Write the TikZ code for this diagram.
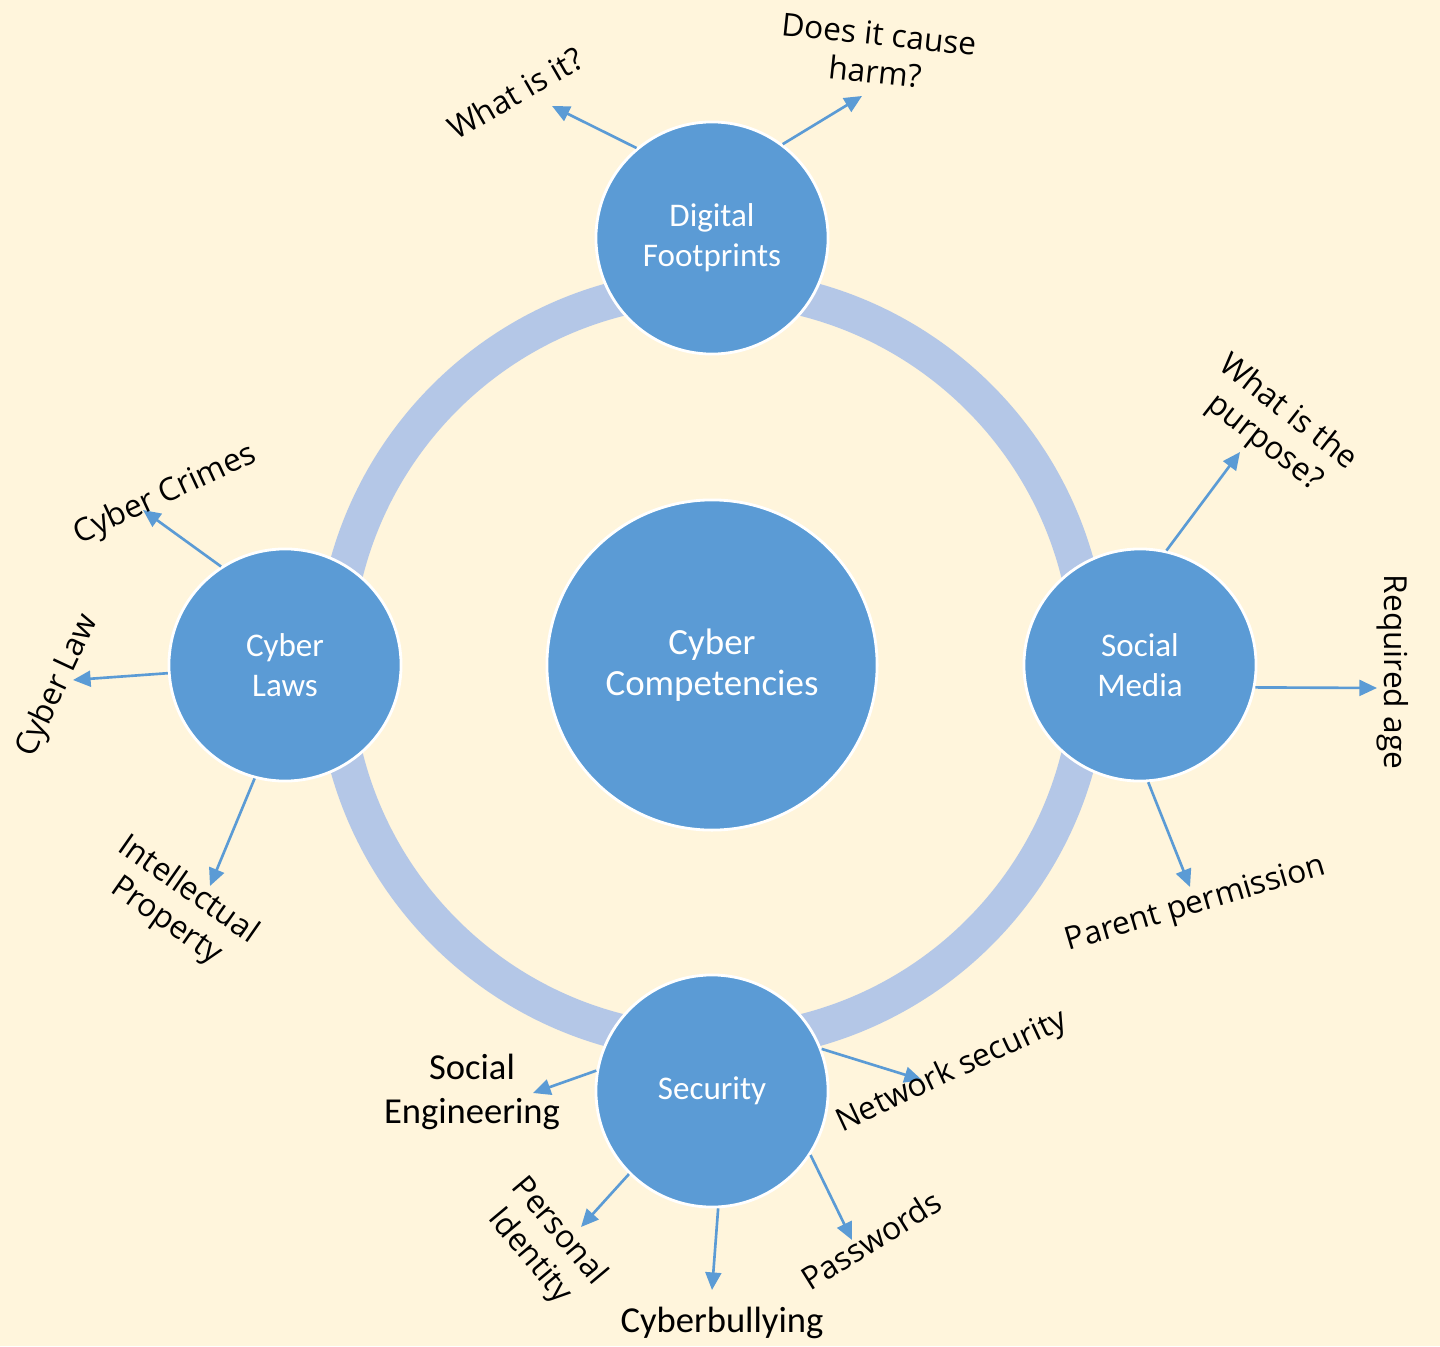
\documentclass[tikz,border=0pt]{standalone}
\usepackage{fontspec}
\setmainfont{Carlito}
\newfontfamily\lblfont{Open Sans}
\usetikzlibrary{arrows.meta}
\definecolor{bgcol}{RGB}{255,245,220}
\definecolor{ringcol}{RGB}{180,199,231}
\definecolor{nodeblue}{RGB}{91,155,213}
\begin{document}
\begin{tikzpicture}[x=0.01cm,y=-0.01cm,
  topic/.style={circle,fill=nodeblue,draw=white,line width=0.8pt,minimum size=2.32cm,inner sep=0pt,
    text=white,align=center,font=\fontsize{9.4pt}{11.3pt}\selectfont},
  hub/.style={circle,fill=nodeblue,draw=white,line width=0.8pt,minimum size=3.3cm,inner sep=0pt,
    text=white,align=center,font=\fontsize{10.5pt}{11.6pt}\selectfont},
  lbl/.style={align=center,inner sep=0pt,text=black,font=\lblfont\fontsize{9pt}{10.8pt}\selectfont},
  clbl/.style={align=center,inner sep=0pt,text=black,font=\fontsize{10.4pt}{12.5pt}\selectfont},
  arr/.style={draw=nodeblue,line width=0.75pt,-{Triangle[length=5pt,width=4.5pt]}}]
\fill[bgcol] (0,0) rectangle (1440,1346);
\useasboundingbox (0,0) rectangle (1440,1346);
\draw[ringcol,line width=10.2pt] (712,665) circle[radius=378];

\node[hub] (hub) at (712,665) {Cyber\\Competencies};
\node[topic] (df) at (712,238) {Digital\\Footprints};
\node[topic] (cl) at (285,665) {Cyber\\Laws};
\node[topic] (sm) at (1140,665) {Social\\Media};
\node[topic] (sec) at (712,1091) {Security};

% arrow tips
\coordinate (t1) at (552,106);
\coordinate (t2) at (862,96);
\coordinate (t3) at (1240,452);
\coordinate (t4) at (1377,688);
\coordinate (t5) at (1190,887);
\coordinate (t6) at (143,510);
\coordinate (t7) at (73,680);
\coordinate (t8) at (210,886);
\coordinate (t9) at (533,1093);
\coordinate (t10) at (922,1080);
\coordinate (t11) at (581,1227);
\coordinate (t12) at (712,1290);
\coordinate (t13) at (852,1240);

\draw[arr] (df.130) -- (t1);
\draw[arr] (df.53.5) -- (t2);
\draw[arr] (sm.77) -- (t3);
\draw[arr] (sm.-11) -- (t4);
\draw[arr] (sm.-86.5) -- (t5);
\draw[arr] (cl.123.5) -- (t6);
\draw[arr] (cl.184) -- (t7);
\draw[arr] (cl.255.6) -- (t8);
\draw[arr] (sec.170) -- (t9);
\draw[arr] (sec.21) -- (t10);
\draw[arr] (sec.225) -- (t11);
\draw[arr] (sec.-87) -- (t12);
\draw[arr] (sec.-33.5) -- (t13);

% labels
\node[lbl,rotate=30] (l1) at (515,93) {What is it?};
\node[lbl,rotate=-6] (l2) at (877,53) {Does it cause\\harm?};
\node[lbl,rotate=-38] (l3) at (1276,428) {What is the\\purpose?};
\node[lbl,rotate=-90] (l4) at (1393,672) {Required age};
\node[lbl,rotate=16.5] (l5) at (1196,905) {Parent permission};
\node[lbl,rotate=25] (l6) at (165,495) {Cyber Crimes};
\node[lbl,rotate=65] (l7) at (58,686) {Cyber Law};
\node[lbl,rotate=-35] (l8) at (177,906) {Intellectual\\Property};
\node[clbl] (l9) at (472,1092) {Social\\Engineering};
\node[lbl,rotate=25] (l10) at (952,1072) {Network security};
\node[lbl,rotate=-50] (l11) at (544,1244) {Personal\\Identity};
\node[clbl] (l12) at (722,1323) {Cyberbullying};
\node[lbl,rotate=32] (l13) at (871,1240) {Passwords};
\end{tikzpicture}
\end{document}
